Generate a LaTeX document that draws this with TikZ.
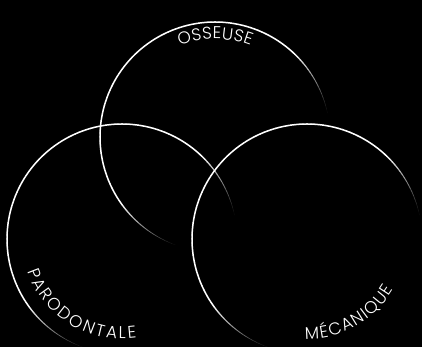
\documentclass[tikz,border=0pt]{standalone}
\usepackage{fontspec}
\setmainfont{Poppins Light}
\newfontfamily\labelfont{Poppins Light}
\newcommand\spacedchar[2]{#2\kern#1}
\usetikzlibrary{calc, decorations.text}

\begin{document}
\begin{tikzpicture}[
    x=1pt, y=1pt,
    ring/.style={line cap=round},
    ringlabel/.style 2 args={decorate, decoration={text along path, text align=center,
        text color=white, text={|\labelfont\fontsize{17}{18}\selectfont\spacedchar{#1}|#2}}}
]

% Background
\fill[black] (0,0) rectangle (422,347);
\useasboundingbox (0,0) rectangle (422,347);

% Circle centres
\coordinate (osseuse) at (215,210);
\coordinate (parodontale) at (122,108);
\coordinate (mecanique) at (307,108);

% Rings, fading towards the lower right
\foreach \c in {osseuse, parodontale, mecanique}{
  \foreach \a in {0,2,...,358}{
    \pgfmathsetmacro\v{max(0,min(100,(cos(\a-130)+0.5)/0.6*100))}
    \pgfmathsetmacro\w{0.3+1.2*\v/100}
    \draw[ring, white!\v!black, line width=\w pt]
      ($(\c)+(\a:115pt)$) arc[start angle=\a, end angle=\a+2, radius=115pt];
  }
}

% Labels
\path[ringlabel={0.3pt}{OSSEUSE}]
  ($(osseuse)+(140:98pt)$) arc[start angle=140, end angle=40, radius=98pt];
\path[ringlabel={2.2pt}{PARODONTALE}]
  ($(parodontale)+(175:100pt)$) arc[start angle=175, end angle=301, radius=100pt];
\path[ringlabel={1.3pt}{MÉCANIQUE}]
  ($(mecanique)+(244:100pt)$) arc[start angle=244, end angle=354, radius=100pt];

\end{tikzpicture}
\end{document}
